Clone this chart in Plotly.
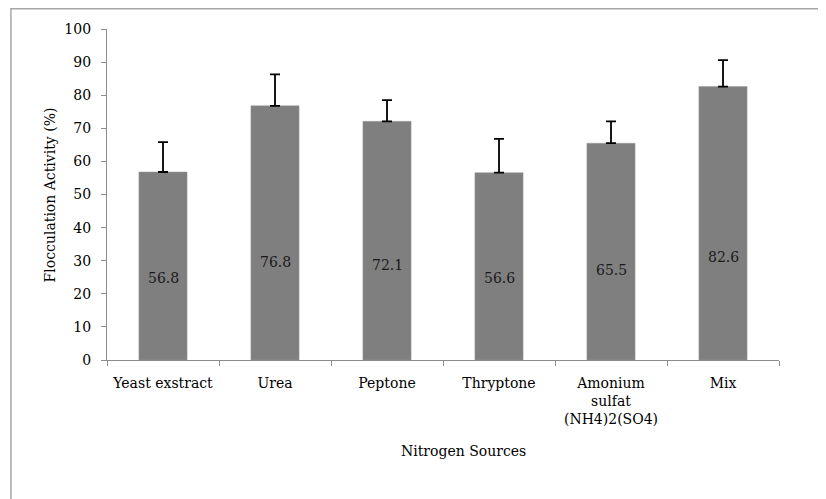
import plotly.graph_objects as go

# Data
sources = ['Yeast exstract', 'Urea', 'Peptone', 'Thryptone',
           'Amonium<br>sulfat<br>(NH4)2(SO4)', 'Mix']
activity = [56.8, 76.8, 72.1, 56.6, 65.5, 82.6]
error_plus = [9.0, 9.5, 6.4, 10.2, 6.6, 8.0]
label_y = [24.8, 29.6, 28.7, 24.8, 27.2, 31.1]

font = 'DejaVu Serif'

fig = go.Figure()

fig.add_trace(go.Bar(
    x=sources, y=activity,
    marker=dict(color='#7f7f7f', line=dict(color='#9a9a9a', width=0.5)),
    error_y=dict(type='data', symmetric=False, array=error_plus,
                 arrayminus=[0] * len(activity),
                 color='black', thickness=1.8, width=5),
    showlegend=False, hoverinfo='skip'))

# Value labels inside the bars
for s, v, ly in zip(sources, activity, label_y):
    fig.add_annotation(x=s, y=ly, text=f'{v:.1f}', showarrow=False,
                       font=dict(family=font, size=14, color='#1a1a1a'))

# Axis titles
fig.add_annotation(xref='paper', yref='paper', x=-0.085, y=0.5,
                   xanchor='center', yanchor='middle',
                   text='Flocculation Activity (%)', textangle=-90,
                   showarrow=False, font=dict(family=font, size=14, color='black'))
fig.add_annotation(xref='paper', yref='paper', x=0.53, y=-0.275,
                   xanchor='center', yanchor='middle',
                   text='Nitrogen Sources', showarrow=False,
                   font=dict(family=font, size=14, color='black'))

# Chart border
fig.add_shape(type='rect', xref='paper', yref='paper',
              x0=-0.143, x1=1.08, y0=-0.46, y1=1.061,
              line=dict(color='#a6a6a6', width=1.5))

# page body adds an 8px offset, so the figure is shrunk to fit the window
fig.update_layout(
    width=818, height=491,
    margin=dict(l=99, r=47, t=21, b=139),
    paper_bgcolor='white', plot_bgcolor='white',
    bargap=0.57,
    font=dict(family=font, size=14, color='black'))

fig.update_yaxes(range=[0, 100], dtick=10, showline=True, linecolor='#8c8c8c',
                 linewidth=1.3, ticks='outside', ticklen=5, tickcolor='#8c8c8c',
                 showgrid=False, zeroline=False, ticklabelstandoff=7,
                 tickfont=dict(family=font, size=14, color='black'))
fig.update_xaxes(showline=True, linecolor='#8c8c8c', linewidth=1.3,
                 ticks='outside', ticklen=5, tickcolor='#8c8c8c',
                 tickson='boundaries', showgrid=False, ticklabelstandoff=10,
                 tickfont=dict(family=font, size=14, color='black'))

fig.write_html('out.html')
